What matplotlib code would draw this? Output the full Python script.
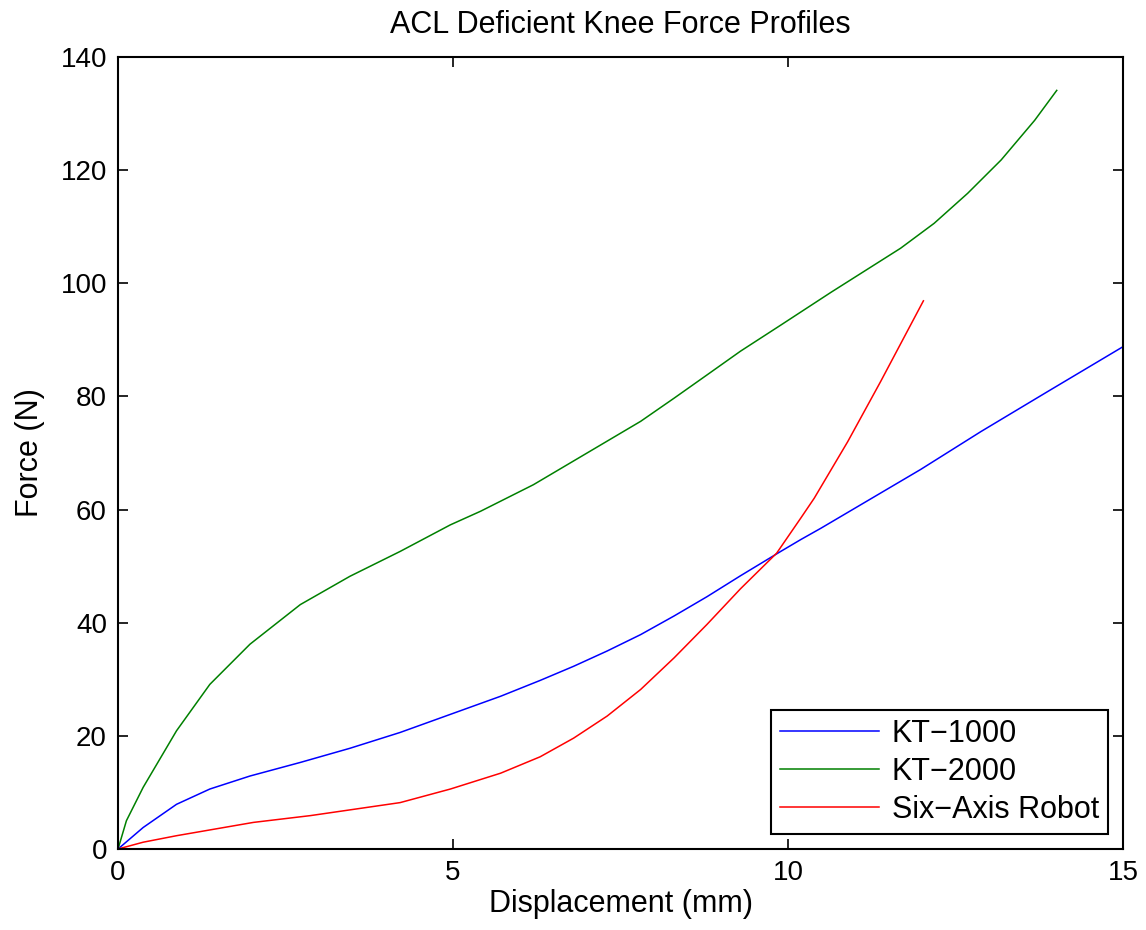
import matplotlib
matplotlib.use("Agg")
import matplotlib.pyplot as plt

plt.rcParams['font.family'] = ['Liberation Sans', 'DejaVu Sans']

kt1000_x = [0, 0.375, 0.873, 1.37, 1.969, 2.72, 3.46, 4.21, 4.96, 5.71, 6.30, 6.80, 7.30, 7.80,
            8.30, 8.79, 9.29, 9.89, 10.19, 10.49, 11.98, 12.88, 13.88, 15.0]
kt1000_y = [0, 3.8, 7.9, 10.6, 12.9, 15.3, 17.8, 20.6, 23.8, 27.0, 29.8, 32.3, 35.0, 37.9,
            41.2, 44.6, 48.3, 52.6, 54.7, 56.7, 67.1, 73.8, 80.9, 88.8]

kt2000_x = [0, 0.125, 0.375, 0.873, 1.37, 1.969, 2.72, 3.46, 4.21, 4.96, 5.41, 6.20, 7.00,
            7.80, 8.30, 8.79, 9.29, 9.89, 10.64, 11.68, 12.18, 12.68, 13.18, 13.68, 14.01]
kt2000_y = [0, 5.0, 10.9, 20.9, 29.1, 36.2, 43.2, 48.2, 52.6, 57.3, 59.7, 64.4, 70.0,
            75.6, 79.7, 83.8, 88.0, 92.6, 98.4, 106.2, 110.6, 115.9, 121.8, 128.8, 134.1]

robot_x = [0, 0.375, 0.873, 2.02, 2.87, 4.21, 4.96, 5.71, 6.30, 6.80, 7.30, 7.80, 8.30, 8.79,
           9.29, 9.83, 10.19, 10.39, 10.89, 11.38, 12.02]
robot_y = [0, 1.2, 2.35, 4.7, 5.9, 8.2, 10.6, 13.4, 16.3, 19.6, 23.5, 28.2, 33.8, 39.7,
           46.0, 52.3, 58.5, 62.0, 72.0, 82.6, 96.9]

labels = ["KT\u22121000", "KT\u22122000", "Six\u2212Axis Robot"]
colors = ["#0000ff", "#008000", "#ff0000"]

fig = plt.figure(figsize=(11.46, 9.30), dpi=100)
ax = fig.add_axes([0.103, 0.0871, 0.877, 0.8516])

ax.plot(kt1000_x, kt1000_y, color=colors[0], lw=1.1, label=labels[0])
ax.plot(kt2000_x, kt2000_y, color=colors[1], lw=1.1, label=labels[1])
ax.plot(robot_x, robot_y, color=colors[2], lw=1.1, label=labels[2])

ax.set_xlim(0, 15)
ax.set_ylim(0, 140)
ax.set_xticks([0, 5, 10, 15])
ax.set_yticks(range(0, 141, 20))
ax.tick_params(direction='in', length=7, width=1.2, top=True, right=True, labelsize=20, pad=8)
for s in ax.spines.values():
    s.set_linewidth(1.5)

ax.set_title("ACL Deficient Knee Force Profiles", fontsize=22, pad=17)
ax.set_xlabel("Displacement (mm)", fontsize=22, labelpad=2)
ax.set_ylabel("Force (N)", fontsize=22, labelpad=11)

leg = ax.legend(loc='lower right', fontsize=22, fancybox=False, edgecolor='black',
                framealpha=1, borderaxespad=0.49, handlelength=3.25, labelspacing=0.26,
                borderpad=0.3, handletextpad=0.4)
leg.get_frame().set_linewidth(1.5)

fig.savefig("out.png", dpi=100)
